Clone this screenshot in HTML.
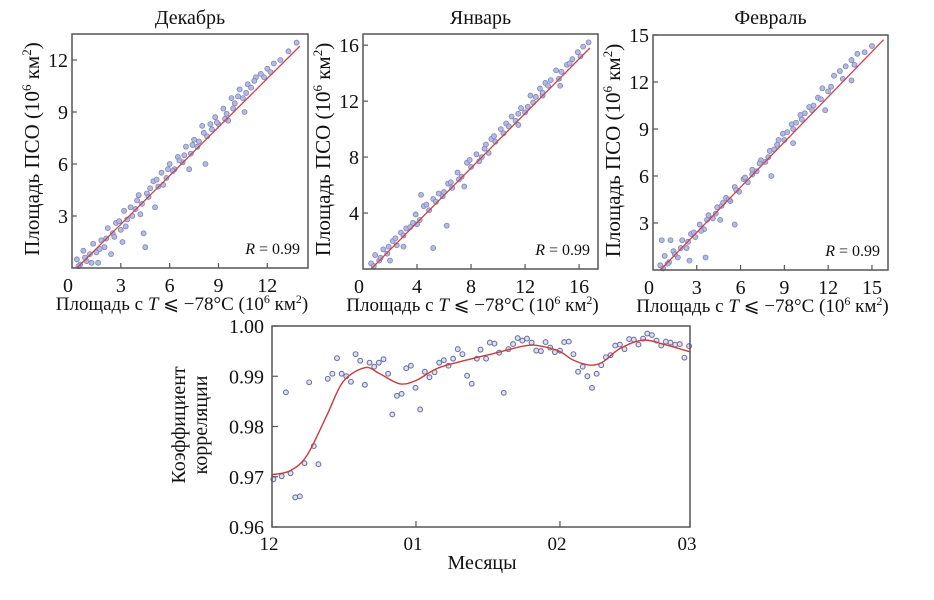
<!DOCTYPE html>
<html><head><meta charset="utf-8">
<style>
html,body{margin:0;padding:0;background:#fff;}
svg{display:block;font-family:"Liberation Serif","DejaVu Serif",serif;}
</style></head>
<body>
<svg id="fig" width="934" height="600" viewBox="0 0 934 600" xmlns="http://www.w3.org/2000/svg"></svg>
<script>
// ---- Scatter panel data ----
const decX = [0.3,0.5,0.7,0.9,1.1,1.3,1.5,1.8,2.0,2.2,2.5,2.7,3.0,3.2,3.4,3.6,3.9,4.1,4.3,4.6,4.8,5.0,5.3,5.5,5.8,6.0,6.3,6.5,6.8,7.0,7.3,7.5,7.8,8.0,8.3,8.5,8.8,9.0,9.3,9.5,9.8,10.0,10.3,10.5,10.8,11.0,11.3,11.6,12.0,12.4,12.8,13.3,13.8,1.6,2.4,3.1,4.4,4.5,5.1,7.2,8.2,9.6,10.6,
  0.4,0.8,1.2,1.7,2.1,2.6,2.9,3.3,3.7,4.0,4.2,4.7,5.2,5.6,5.9,6.2,6.6,6.9,7.4,7.7,8.1,8.6,8.9,9.4,9.9,10.2,10.7,11.2,11.8,12.2];
const decY = [0.5,0.2,1.0,0.4,0.8,1.4,0.9,1.6,1.2,2.3,2.0,2.6,2.2,3.3,2.8,3.5,3.4,4.2,3.7,4.3,4.6,5.0,4.7,5.5,5.2,6.0,5.7,6.4,6.1,7.0,6.6,7.4,7.3,8.2,7.6,8.3,8.7,8.3,9.2,8.9,9.8,9.5,10.3,9.8,10.6,10.4,11.0,11.2,11.5,11.8,12.0,12.5,13.0,0.3,0.8,1.5,2.0,1.2,3.5,5.7,6.0,8.5,9.0,
  0.1,0.6,0.3,1.1,1.7,1.8,2.7,2.4,3.0,3.9,3.1,4.1,5.1,4.8,5.7,5.6,6.2,6.5,7.1,7.0,7.8,8.0,8.4,8.6,9.2,9.9,10.1,10.8,11.0,11.3];
const janX = [0.6,0.9,1.2,1.5,1.8,2.2,2.5,2.8,3.2,3.5,3.9,4.2,4.5,4.9,5.2,5.6,5.9,6.3,6.6,7.0,7.3,7.7,8.0,8.4,8.8,9.1,9.5,9.8,10.2,10.6,11.0,11.3,11.7,12.0,12.4,12.8,13.1,13.5,13.9,14.3,14.7,15.1,15.5,15.9,16.3,16.7,2.0,3.0,4.3,5.2,6.2,7.5,9.3,11.5,13.3,14.6,
  0.8,1.3,1.9,2.4,3.0,3.7,4.0,4.7,5.4,6.0,6.5,7.1,7.9,8.6,9.0,9.7,10.4,10.8,11.5,12.2,12.6,13.3,13.7,14.5,15.3,16.1];
const janY = [0.4,1.0,0.6,1.4,1.1,2.0,1.7,2.6,2.9,3.0,3.9,3.5,4.5,4.2,5.0,5.4,5.2,6.1,5.8,6.9,6.6,7.6,7.3,8.2,8.0,8.9,9.3,9.1,10.0,10.4,10.9,10.6,11.5,11.2,12.4,12.3,12.9,13.3,13.5,14.2,14.1,14.6,15.0,15.5,15.9,16.2,0.6,1.6,5.3,1.5,3.1,5.9,8.3,10.3,12.4,13.1,
  0.2,0.8,1.6,2.2,2.4,3.3,3.2,4.6,4.8,5.5,6.2,6.4,7.8,7.7,8.6,9.5,9.7,10.2,11.1,11.6,11.9,12.6,13.1,13.6,14.7,15.2];
const febX = [0.5,0.8,1.1,1.4,1.7,2.0,2.3,2.6,2.9,3.2,3.5,3.8,4.1,4.4,4.7,5.0,5.3,5.6,5.9,6.2,6.5,6.8,7.1,7.4,7.7,8.0,8.3,8.6,8.9,9.2,9.5,9.8,10.1,10.4,10.7,11.0,11.3,11.6,12.0,12.4,12.8,13.2,13.6,14.0,14.5,15.0,0.6,1.2,2.5,3.6,4.6,5.6,8.1,9.6,11.8,13.6,
  0.7,1.0,1.5,1.9,2.4,2.8,3.3,3.7,4.3,4.8,5.2,5.7,6.3,6.8,7.3,7.9,8.5,9.0,9.6,10.2,10.9,11.5,12.2,13.0,13.8];
const febY = [0.3,0.9,0.5,1.2,0.8,1.9,1.4,2.3,2.1,2.9,2.6,3.5,3.3,4.0,4.1,4.6,4.4,5.3,5.0,5.8,5.6,6.4,6.3,7.0,6.9,7.6,7.7,8.3,8.7,8.8,9.3,9.4,9.9,10.0,10.4,10.5,11.0,11.6,11.4,12.4,12.7,13.0,13.4,13.8,13.9,14.3,1.9,1.9,0.6,0.8,3.2,2.9,6.0,8.1,10.2,12.1,
  0.1,0.4,1.0,1.4,1.8,2.4,2.5,3.2,3.6,4.3,4.5,5.1,5.9,6.1,6.8,7.2,8.0,8.3,9.0,9.6,10.2,10.9,11.7,12.2,13.1];
const decFit = [[0.3,0],[14,12.8]];
const janFit = [[0.6,0],[16.8,15.8]];
const febFit = [[0.5,0],[15.8,14.7]];
const decTicks = [3,6,9,12];
const janTicks = [4,8,12,16];
const febTicks = [3,6,9,12,15];

// ---- Correlation chart data ----
const corrDays = [0.3,2.1,3,4,5,6,7,8,9,10,12,13,14,15,16,17,18,19,20,21,22,23,24,25,25.9,26.9,27.9,28.9,29.9,30.9,31.9,32.9,33.9,35,36,37,38,39,40,41,42,43,44.1,44.9,46.1,46.9,47.9,48.9,49.9,50.9,51.9,52.9,53.9,54.9,55.9,56.9,57.9,58.9,59.9,60.9,62,62.9,63.9,64.9,65.9,66.9,67.9,68.9,69.9,70.9,71.9,72.9,73.9,74.9,75.9,76.9,77.9,78.9,79.9,80.8,81.8,82.8,83.8,84.8,85.8,86.8,87.8,88.8,89.8];
const corrVals = [0.9695,0.9701,0.9868,0.9707,0.9659,0.9661,0.9727,0.9888,0.9761,0.9725,0.9895,0.9905,0.9936,0.9905,0.9900,0.9889,0.9944,0.9931,0.9883,0.9927,0.9919,0.9927,0.9934,0.9905,0.9824,0.9861,0.9865,0.9916,0.9921,0.9877,0.9834,0.9909,0.9898,0.9908,0.9927,0.9932,0.9921,0.9935,0.9954,0.9944,0.9901,0.9885,0.9935,0.9953,0.9935,0.9967,0.9965,0.9947,0.9867,0.9954,0.9964,0.9976,0.9971,0.9975,0.9967,0.9951,0.9950,0.9968,0.9957,0.9948,0.9951,0.9968,0.9969,0.9944,0.9909,0.9919,0.9900,0.9877,0.9905,0.9922,0.9938,0.9942,0.9961,0.9963,0.9954,0.9974,0.9973,0.9963,0.9975,0.9985,0.9982,0.9971,0.9961,0.9969,0.9967,0.9963,0.9964,0.9937,0.9960];
const smoothDays = [0,3.9,7.5,11.8,15.3,20,23.2,27.5,31.1,35.4,40.5,47.6,54.8,58.4,62,64.9,68.5,71.3,74.9,79.9,84.9,89.9];
const smoothVals = [0.9704,0.9712,0.9742,0.9822,0.9889,0.9917,0.9905,0.9885,0.9892,0.9915,0.9929,0.9945,0.9961,0.9959,0.9949,0.9932,0.9922,0.9929,0.9955,0.9972,0.9962,0.9949];
const corrYTicks = [0.96,0.97,0.98,0.99,1.00];
const corrYLabels = ["0.96","0.97","0.98","0.99","1.00"];
const monthDays = [0,31,62,90];
const monthLabels = ["12","01","02","03"];

const NS = "http://www.w3.org/2000/svg";
const svg = document.getElementById('fig');
function mk(tag, attrs, parent, text){
  const e = document.createElementNS(NS, tag);
  for (const k in attrs) e.setAttribute(k, attrs[k]);
  if (text !== undefined) e.textContent = text;
  (parent||svg).appendChild(e);
  return e;
}

function scatterPanel(cfg){
  const g = mk('g', {});
  
  
  const sx = v => cfg.L + v * (cfg.R - cfg.L) / cfg.xmax;
  const sy = v => cfg.B - v * (cfg.B - cfg.T) / cfg.ymax;
  const t = mk('text', {x:(cfg.L+cfg.R)/2, y:24, 'text-anchor':'middle', 'font-size':20, fill:'#111'}, g, cfg.title);
  
  
  const pts = mk('g', {}, g);
  
  
  for (let i=0;i<cfg.xs.length;i++){
    const c = mk('circle', {cx:sx(cfg.xs[i]), cy:sy(cfg.ys[i]), r:2.5, fill:'#b4bbe2', stroke:'#7e86bb', 'stroke-width':0.8}, pts);
    
    
  }
  const fl = mk('line', {x1:sx(cfg.fit[0][0]), y1:sy(cfg.fit[0][1]), x2:sx(cfg.fit[1][0]), y2:sy(cfg.fit[1][1]), stroke:'#d0404a', 'stroke-width':1.3}, g);
  
  
  const fr = mk('rect', {x:cfg.L, y:cfg.T, width:cfg.R-cfg.L, height:cfg.B-cfg.T, fill:'none', stroke:'#555', 'stroke-width':1.5}, g);
  
  
  const z = mk('text', {x:cfg.L-4, y:cfg.B+24, 'text-anchor':'middle', 'font-size':20, fill:'#111'}, g, '0');
  
  
  cfg.ticks.forEach(v => {
    mk('line', {x1:sx(v), x2:sx(v), y1:cfg.B, y2:cfg.B-5, stroke:'#555', 'stroke-width':1.2}, g);
    const tl = mk('text', {x:sx(v), y:cfg.B+24, 'text-anchor':'middle', 'font-size':20, fill:'#111'}, g, String(v));
    
    
  });
  cfg.ticks.forEach(v => {
    if (v > cfg.ymax + 0.01) return;
    mk('line', {x1:cfg.L, x2:cfg.L+5, y1:sy(v), y2:sy(v), stroke:'#555', 'stroke-width':1.2}, g);
    const tl = mk('text', {x:cfg.L-4, y:sy(v)+7, 'text-anchor':'end', 'font-size':20, fill:'#111'}, g, String(v));
    
    
  });
  const r = mk('text', {x:cfg.R-8, y:cfg.B-14, 'text-anchor':'end', 'font-size':16, fill:'#111'}, g);
  
  
  mk('tspan', {'font-style':'italic'}, r, 'R');
  mk('tspan', {}, r, ' = 0.99');
  const cy = (cfg.T+cfg.B)/2;
  const yt = mk('text', {x:0, y:0, transform:`translate(${cfg.L-33},${cy-2}) rotate(-90)`, 'text-anchor':'middle', 'font-size':21, fill:'#111'}, g);
  
  
  mk('tspan', {}, yt, 'Площадь ПСО (10');
  mk('tspan', {'font-size':13, dy:-8}, yt, '6');
  mk('tspan', {dy:8}, yt, ' км');
  mk('tspan', {'font-size':13, dy:-8}, yt, '2');
  mk('tspan', {dy:8}, yt, ')');
  const xt = mk('text', {x:(cfg.L+cfg.R)/2 - 8, y:cfg.B+42, 'text-anchor':'middle', 'font-size':19, fill:'#111'}, g);
  
  
  mk('tspan', {}, xt, 'Площадь с ');
  mk('tspan', {'font-style':'italic'}, xt, 'T');
  mk('tspan', {}, xt, ' ⩽ −78°C (10');
  mk('tspan', {'font-size':12, dy:-7}, xt, '6');
  mk('tspan', {dy:7}, xt, ' км');
  mk('tspan', {'font-size':12, dy:-7}, xt, '2');
  mk('tspan', {dy:7}, xt, ')');
}

scatterPanel({name:'panel-december', title:'Декабрь', L:72, R:308, T:34, B:268, xmax:14.5, ymax:13.5, xs:decX, ys:decY, fit:decFit, ticks:decTicks});
scatterPanel({name:'panel-january', title:'Январь', L:363, R:598, T:34, B:269, xmax:17.4, ymax:16.8, xs:janX, ys:janY, fit:janFit, ticks:janTicks});
scatterPanel({name:'panel-february', title:'Февраль', L:653, R:888, T:35, B:270, xmax:16.1, ymax:15, xs:febX, ys:febY, fit:febFit, ticks:febTicks});

// ---- Correlation chart ----
(function(){
  const L=272, R=690, T=326, B=527;
  const g = mk('g', {});
  
  
  const sx = d => L + d*(R-L)/90;
  const sy = v => B - (v-0.96)*(B-T)/0.04;
  const P = smoothDays.map((d,i)=>[sx(d), sy(smoothVals[i])]);
  let dstr = `M${P[0][0]},${P[0][1]}`;
  for (let i=0;i<P.length-1;i++){
    const p0=P[Math.max(0,i-1)], p1=P[i], p2=P[i+1], p3=P[Math.min(P.length-1,i+2)];
    const c1=[p1[0]+(p2[0]-p0[0])/6, p1[1]+(p2[1]-p0[1])/6];
    const c2=[p2[0]-(p3[0]-p1[0])/6, p2[1]-(p3[1]-p1[1])/6];
    dstr += ` C${c1[0]},${c1[1]} ${c2[0]},${c2[1]} ${p2[0]},${p2[1]}`;
  }
  const pts = mk('g', {}, g);
  
  
  corrDays.forEach((d,i)=>{
    const c = mk('circle', {cx:sx(d), cy:sy(corrVals[i]), r:2.4, fill:'#dfe2f2', stroke:'#6d73a0', 'stroke-width':1.1}, pts);
    
    
  });
  const cv = mk('path', {d:dstr, fill:'none', stroke:'#cc3a3a', 'stroke-width':1.4}, g);
  
  
  const fr = mk('rect', {x:L, y:T, width:R-L, height:B-T, fill:'none', stroke:'#555', 'stroke-width':1.5}, g);
  
  
  corrYTicks.forEach((v,i)=>{
    mk('line', {x1:L, x2:L+6, y1:sy(v), y2:sy(v), stroke:'#555', 'stroke-width':1.2}, g);
    const t = mk('text', {x:L-8, y:sy(v)+7, 'text-anchor':'end', 'font-size':20, fill:'#111'}, g, corrYLabels[i]);
    
    
  });
  monthDays.forEach((d,i)=>{
    mk('line', {x1:sx(d), x2:sx(d), y1:B, y2:B-6, stroke:'#555', 'stroke-width':1.2}, g);
    const t = mk('text', {x:sx(d)-3, y:B+23, 'text-anchor':'middle', 'font-size':19, fill:'#111'}, g, monthLabels[i]);
    
    
  });
  const xt = mk('text', {x:482, y:569, 'text-anchor':'middle', 'font-size':20, fill:'#111'}, g, 'Месяцы');
  
  
  const yt = mk('text', {x:0, y:0, transform:'translate(188,425) rotate(-90)', 'text-anchor':'middle', 'font-size':20, fill:'#111'}, g);
  
  
  mk('tspan', {x:0, dy:-3}, yt, 'Коэффициент');
  mk('tspan', {x:0, dy:22}, yt, 'корреляции');
})();
</script>
</body></html>
